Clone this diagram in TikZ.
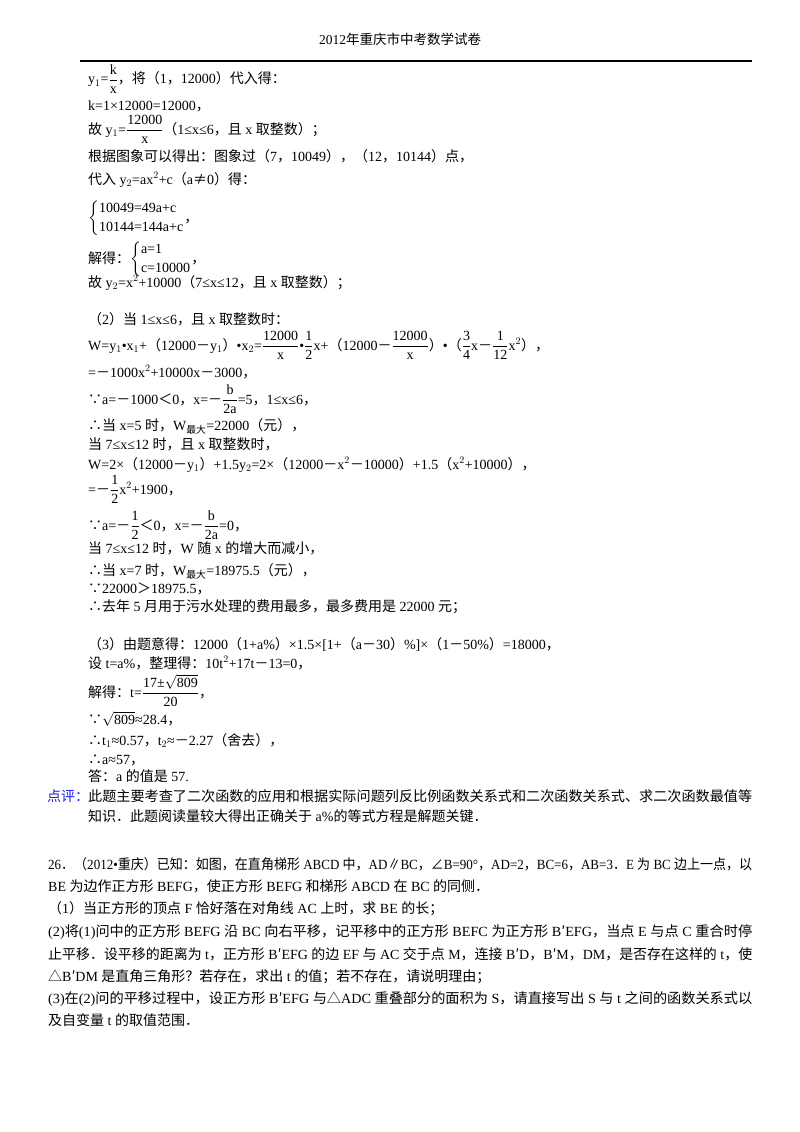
\documentclass[tikz,border=0pt]{standalone}
\usepackage{amsmath}
\usepackage{graphicx}
\usepackage{fontspec}
\setmainfont{Liberation Serif}
\newfontfamily\cjkf{Noto Sans CJK SC}
\newcommand\latinf{\rmfamily}
\newXeTeXintercharclass\cjkcls
\newcommand\setcls[2]{\count255=#1 \loop\XeTeXcharclass\count255=\cjkcls\relax\ifnum\count255<#2 \advance\count255 by 1 \repeat}
\setcls{"4E00}{"9FFF}
\setcls{"3000}{"303F}
\setcls{"FF00}{"FFEF}
\setcls{"2234}{"2235}
\setcls{"25B3}{"25B3}
\setcls{"2220}{"2220}
\setcls{"2225}{"2225}
\setcls{"2260}{"2260}
\setcls{"2032}{"2032}
\XeTeXinterchartoks 0 \cjkcls = {\cjkf}
\XeTeXinterchartoks 4095 \cjkcls = {\cjkf}
\XeTeXinterchartoks \cjkcls 0 = {\latinf}
\XeTeXinterchartoks \cjkcls 4095 = {\latinf}
\XeTeXinterchartokenstate=1
\newcommand\fr[2]{$\dfrac{\mbox{#1}}{\mbox{#2}}$}
\newcommand\fw[2]{\resizebox{#1}{\height}{#2}}
\definecolor{pingblue}{RGB}{30,30,230}
\begin{document}
\begin{tikzpicture}[x=1pt,y=-1pt,
  t/.style={anchor=base west,inner sep=0pt,font=\fontsize{14}{19}\selectfont},
  h/.style={anchor=base,inner sep=0pt,font=\fontsize{13.5}{19}\selectfont}]
\useasboundingbox[fill=white] (0,0) rectangle (800,1132);
\node[h] (hd) at (400,45) {2012年重庆市中考数学试卷};
\draw[line width=1.2pt] (80,61) -- (752,61);
\node[t] (a1) at (88,84) {y$_1$=\fr{k}{x}，将（1，12000）代入得：};
\node[t] (a2) at (88,110) {k=1×12000=12000，};
\node[t] (a3) at (88,134) {故 y$_1$=\fr{12000}{x}（1≤x≤6，且 x 取整数）；};
\node[t] (a4) at (88,161) {根据图象可以得出：图象过（7，10049），（12，10144）点，};
\node[t] (a5) at (88,184) {代入 y$_2$=ax$^2$+c（a≠0）得：};
\node[t] (a6) at (88,222) {$\left\{\begin{array}{@{}l@{}}\mbox{10049=49a+c}\\[0pt]\mbox{10144=144a+c}\end{array}\right.$，};
\node[t] (a7) at (88,263) {解得：$\left\{\begin{array}{@{}l@{}}\mbox{a=1}\\[0pt]\mbox{c=10000}\end{array}\right.$，};
\node[t] (a8) at (88,287) {故 y$_2$=x$^2$+10000（7≤x≤12，且 x 取整数）；};
\node[t] (b1) at (88,324) {（2）当 1≤x≤6，且 x 取整数时：};
\node[t] (b2) at (88,350) {W=y$_1$•x$_1$+（12000－y$_1$）•x$_2$=\fr{12000}{x}•\fr{1}{2}x+（12000－\fr{12000}{x}）•（\fr{3}{4}x－\fr{1}{12}x$^2$），};
\node[t] (b3) at (88,377) {=－1000x$^2$+10000x－3000，};
\node[t] (b4) at (88,404) {∵a=－1000＜0，x=－\fr{b}{2a}=5，1≤x≤6，};
\node[t] (b5) at (88,430) {∴当 x=5 时，W$_{\text{\cjkf 最大}}$=22000（元），};
\node[t] (b6) at (88,449) {当 7≤x≤12 时，且 x 取整数时，};
\node[t] (b7) at (88,469) {W=2×（12000－y$_1$）+1.5y$_2$=2×（12000－x$^2$－10000）+1.5（x$^2$+10000），};
\node[t] (b8) at (88,494) {=－\fr{1}{2}x$^2$+1900，};
\node[t] (b9) at (88,530) {∵a=－\fr{1}{2}＜0，x=－\fr{b}{2a}=0，};
\node[t] (b10) at (88,553) {当 7≤x≤12 时，W 随 x 的增大而减小，};
\node[t] (b11) at (88,575) {∴当 x=7 时，W$_{\text{\cjkf 最大}}$=18975.5（元），};
\node[t] (b12) at (88,593) {∵22000＞18975.5，};
\node[t] (b13) at (88,611) {∴去年 5 月用于污水处理的费用最多，最多费用是 22000 元；};
\node[t] (c1) at (88,649) {（3）由题意得：12000（1+a\%）×1.5×[1+（a－30）\%]×（1－50\%）=18000，};
\node[t] (c2) at (88,668) {设 t=a\%，整理得：10t$^2$+17t－13=0，};
\node[t] (c3) at (88,697) {解得：t=\fr{17±$\sqrt{\mbox{809}}$}{20}，};
\node[t] (c4) at (88,724) {∵$\sqrt{\mbox{809}}$≈28.4，};
\node[t] (c5) at (88,745) {∴t$_1$≈0.57，t$_2$≈－2.27（舍去），};
\node[t] (c6) at (88,764) {∴a≈57，};
\node[t] (c7) at (88,781) {答：a 的值是 57.};
\node[t,text=pingblue] (d0) at (47,801) {点评：};
\node[t] (d1) at (88,801) {\fw{664pt}{此题主要考查了二次函数的应用和根据实际问题列反比例函数关系式和二次函数关系式、求二次函数最值等}};
\node[t] (d2) at (88,821) {知识．此题阅读量较大得出正确关于 a\%的等式方程是解题关键．};
\node[t] (e1) at (48,869) {\fw{704pt}{26．（2012•重庆）已知：如图，在直角梯形 ABCD 中，AD∥BC，∠B=90°，AD=2，BC=6，AB=3．E 为 BC 边上一点，以}};
\node[t] (e2) at (48,891) {BE 为边作正方形 BEFG，使正方形 BEFG 和梯形 ABCD 在 BC 的同侧．};
\node[t] (e3) at (48,913) {（1）当正方形的顶点 F 恰好落在对角线 AC 上时，求 BE 的长；};
\node[t] (e4) at (48,936) {\fw{704pt}{(2)将(1)问中的正方形 BEFG 沿 BC 向右平移，记平移中的正方形 BEFC 为正方形 B′EFG，当点 E 与点 C 重合时停}};
\node[t] (e5) at (48,959) {\fw{704pt}{止平移．设平移的距离为 t，正方形 B′EFG 的边 EF 与 AC 交于点 M，连接 B′D，B′M，DM，是否存在这样的 t，使}};
\node[t] (e6) at (48,981) {△B′DM 是直角三角形？若存在，求出 t 的值；若不存在，请说明理由；};
\node[t] (e7) at (48,1003) {\fw{704pt}{(3)在(2)问的平移过程中，设正方形 B′EFG 与△ADC 重叠部分的面积为 S，请直接写出 S 与 t 之间的函数关系式以}};
\node[t] (e8) at (48,1025) {及自变量 t 的取值范围．};
\end{tikzpicture}
\end{document}
